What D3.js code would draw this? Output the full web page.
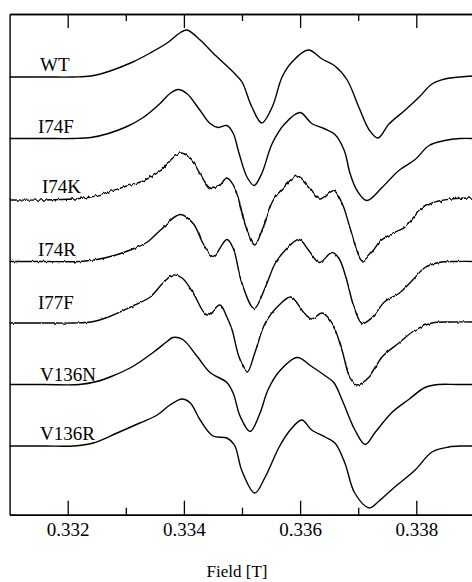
<!DOCTYPE html>
<html>
<head>
<meta charset="utf-8">
<script src="https://cdn.jsdelivr.net/npm/d3@7/dist/d3.min.js"></script>
<style>
  html, body { margin: 0; padding: 0; background: #fff; }
  svg { display: block; }
  text { font-family: "Liberation Serif", "Times New Roman", serif; fill: #000; }
</style>
</head>
<body>
<svg id="chart" width="472" height="582"></svg>
<script>
// EPR first-derivative spectra, magnetic field in tesla, amplitude in arbitrary units
const traceNames = ["WT", "I74F", "I74K", "I74R", "I77F", "V136N", "V136R"];
// baseline of each spectrum in the stacked display (a.u.)
const traceOffsets = [369, 307.5, 246, 184.5, 123, 61.5, 0];
const majorTicks = [0.332, 0.334, 0.336, 0.338];
const minorTicks = [0.333, 0.335, 0.337];
const fieldDomain = [0.331, 0.339];
const axisTitle = "Field [T]";

// [field (T), signal (a.u.)]
const specWT = [
  [0.33100, 0], [0.33160, 0], [0.33210, 0], [0.33240, 1], [0.33273, 6], [0.33312, 15],
  [0.33342, 24], [0.33371, 34], [0.33393, 44], [0.33405, 47], [0.33428, 37], [0.33450, 24],
  [0.33474, 11], [0.33488, 3], [0.33500, -5], [0.33517, -30], [0.33534, -46], [0.33552, -30],
  [0.33569, 0], [0.33586, 15], [0.33614, 27], [0.33638, 18], [0.33660, 11], [0.33681, -3],
  [0.33701, -30], [0.33719, -53], [0.33734, -61], [0.33753, -47], [0.33781, -33], [0.33805, -20],
  [0.33827, -7], [0.33849, -2], [0.33875, 0], [0.33900, 1]
];
const specI74F = [
  [0.33100, 0], [0.33160, 0], [0.33210, 0], [0.33240, 1], [0.33270, 5], [0.33302, 12],
  [0.33330, 21], [0.33359, 35], [0.33376, 45], [0.33390, 49], [0.33405, 45], [0.33428, 28],
  [0.33445, 15], [0.33459, 11], [0.33474, 13], [0.33485, 5], [0.33495, -15], [0.33509, -39],
  [0.33521, -47], [0.33534, -35], [0.33552, -5], [0.33574, 15], [0.33600, 26], [0.33620, 15],
  [0.33641, 10], [0.33660, 4], [0.33676, -12], [0.33686, -35], [0.33698, -52], [0.33715, -62],
  [0.33741, -49], [0.33770, -32], [0.33798, -21], [0.33822, -7], [0.33849, -2], [0.33875, 0],
  [0.33900, 0]
];
const specI74K = [
  [0.33100, 0], [0.33160, 0], [0.33210, 1], [0.33240, 3], [0.33270, 8], [0.33302, 14],
  [0.33330, 19], [0.33359, 29], [0.33381, 42], [0.33393, 47], [0.33411, 42], [0.33428, 26],
  [0.33445, 12], [0.33459, 13], [0.33474, 22], [0.33485, 15], [0.33493, 3], [0.33502, -18],
  [0.33514, -38], [0.33522, -45], [0.33536, -28], [0.33553, -1], [0.33571, 12], [0.33595, 24],
  [0.33617, 12], [0.33634, 1], [0.33657, 10], [0.33672, -3], [0.33686, -28], [0.33698, -51],
  [0.33707, -61], [0.33725, -51], [0.33738, -41], [0.33760, -33], [0.33781, -27], [0.33805, -11],
  [0.33827, -3], [0.33860, 1], [0.33900, 2]
];
const specI74R = [
  [0.33100, 0], [0.33160, 0], [0.33220, 0], [0.33250, 2], [0.33280, 6], [0.33310, 12],
  [0.33336, 19], [0.33359, 31], [0.33393, 47], [0.33416, 38], [0.33433, 18], [0.33450, 5],
  [0.33474, 22], [0.33485, 13], [0.33500, -22], [0.33521, -47], [0.33540, -26], [0.33557, -2],
  [0.33574, 11], [0.33598, 22], [0.33615, 11], [0.33633, -1], [0.33655, 9], [0.33667, 3],
  [0.33679, -16], [0.33693, -46], [0.33707, -62], [0.33724, -56], [0.33746, -40], [0.33770, -32],
  [0.33793, -19], [0.33815, -6], [0.33839, -1], [0.33870, 0], [0.33900, 0]
];
const specI77F = [
  [0.33100, 0], [0.33160, 0], [0.33210, 0], [0.33240, 1], [0.33270, 6], [0.33312, 17],
  [0.33342, 26], [0.33364, 40], [0.33381, 48], [0.33397, 45], [0.33416, 30], [0.33440, 8],
  [0.33462, 18], [0.33474, 6], [0.33483, -7], [0.33495, -34], [0.33509, -49], [0.33522, -30],
  [0.33540, 0], [0.33564, 18], [0.33584, 26], [0.33607, 10], [0.33620, 4], [0.33638, 10],
  [0.33655, 0], [0.33672, -27], [0.33686, -55], [0.33698, -62], [0.33719, -54], [0.33741, -34],
  [0.33770, -20], [0.33798, -7], [0.33827, 0], [0.33860, 1], [0.33900, 1]
];
const specV136N = [
  [0.33100, 0], [0.33160, 0], [0.33220, 0], [0.33250, 3], [0.33275, 8], [0.33312, 18],
  [0.33347, 32], [0.33371, 43], [0.33381, 47], [0.33398, 45], [0.33423, 28], [0.33445, 12],
  [0.33474, 2], [0.33485, -9], [0.33497, -32], [0.33514, -47], [0.33530, -30], [0.33545, -5],
  [0.33564, 13], [0.33595, 27], [0.33620, 18], [0.33645, 8], [0.33658, 2], [0.33672, -15],
  [0.33694, -45], [0.33712, -60], [0.33729, -48], [0.33758, -28], [0.33787, -15], [0.33815, -3],
  [0.33839, 0], [0.33870, 0], [0.33900, 0]
];
const specV136R = [
  [0.33100, 0], [0.33160, 0], [0.33210, 0], [0.33244, 3], [0.33285, 13], [0.33324, 23],
  [0.33354, 31], [0.33376, 41], [0.33397, 47], [0.33411, 43], [0.33428, 26], [0.33450, 10],
  [0.33474, 8], [0.33487, 1], [0.33500, -25], [0.33522, -47], [0.33540, -31], [0.33564, -1],
  [0.33583, 16], [0.33603, 26], [0.33620, 16], [0.33643, 9], [0.33660, 3], [0.33677, -17],
  [0.33694, -47], [0.33719, -62], [0.33736, -55], [0.33763, -41], [0.33798, -24], [0.33827, -6],
  [0.33856, -1], [0.33880, 0], [0.33900, 0]
];
const spectra = [specWT, specI74F, specI74K, specI74R, specI77F, specV136N, specV136R];

// ---- layout ----
const plot = { left: 9.6, right: 474.4, top: 14, bottom: 514.7 };
const jitter = [1.6, 1.0, 5.0, 3.0, 3.0, 1.0, 1.0];   // recorder noise amplitude per trace (px)
const labelDx = [40, 38, 42, 38, 38, 40, 40];
const labelLift = [6, 6, 7, 6, 14, 4, 6];

const svg = d3.select("#chart");

const x = d3.scaleLinear().domain(fieldDomain).range([plot.left, plot.right]);
const y = d3.scaleLinear().domain([-68.7, 432]).range([plot.bottom, plot.top]);

// vertical-only noise: horizontal channel pinned to neutral grey
const defs = svg.append("defs");
jitter.forEach((s, i) => {
  const f = defs.append("filter").attr("id", "jitter" + i)
    .attr("filterUnits", "userSpaceOnUse")
    .attr("x", 0).attr("y", 0).attr("width", 480).attr("height", 582);
  f.append("feTurbulence").attr("type", "fractalNoise")
    .attr("baseFrequency", "0.35 0.05").attr("numOctaves", 2).attr("seed", 5 + i)
    .attr("result", "n");
  f.append("feColorMatrix").attr("in", "n").attr("type", "matrix")
    .attr("values", "0 0 0 0 0.5  0 1 0 0 0  0 0 1 0 0  0 0 0 0 1")
    .attr("result", "m");
  f.append("feDisplacementMap").attr("in", "SourceGraphic").attr("in2", "m")
    .attr("scale", s).attr("xChannelSelector", "R").attr("yChannelSelector", "G");
});

// frame / axes
const axisStyle = g => {
  g.selectAll("path.domain").attr("stroke", "#000").attr("stroke-width", 1.4);
  g.selectAll(".tick line").attr("stroke", "#000").attr("stroke-width", 1.3);
};

svg.append("g").attr("transform", `translate(0,${plot.bottom})`)
  .call(d3.axisBottom(x).tickValues(majorTicks).tickSize(-14).tickSizeOuter(0)
    .tickFormat(d3.format(".3f")).tickPadding(8))
  .call(axisStyle)
  .call(g => g.selectAll(".tick text").attr("font-size", 19).attr("fill", "#000"));

svg.append("g").attr("transform", `translate(0,${plot.bottom})`)
  .call(d3.axisBottom(x).tickValues(minorTicks).tickSize(-7).tickSizeOuter(0).tickFormat(""))
  .call(axisStyle);

svg.append("g").attr("transform", `translate(0,${plot.top})`)
  .call(d3.axisTop(x).tickValues(majorTicks).tickSize(-14).tickSizeOuter(0).tickFormat(""))
  .call(axisStyle);

svg.append("g").attr("transform", `translate(0,${plot.top})`)
  .call(d3.axisTop(x).tickValues(minorTicks).tickSize(-7).tickSizeOuter(0).tickFormat(""))
  .call(axisStyle);

svg.append("g").attr("transform", `translate(${plot.left},0)`)
  .call(d3.axisLeft(y).tickValues([]).tickSizeOuter(0))
  .call(axisStyle);

// spectra, stacked by offset
spectra.forEach((spec, i) => {
  const off = traceOffsets[i];
  const gen = d3.line()
    .x(d => x(d[0]))
    .y(d => y(off + d[1]))
    .curve(d3.curveCatmullRom.alpha(0.5));
  svg.append("path")
    .datum(spec)
    .attr("d", gen)
    .attr("fill", "none")
    .attr("stroke", "#000")
    .attr("stroke-width", 1.4)
    .attr("stroke-linejoin", "round")
    .attr("filter", `url(#jitter${i})`);

  svg.append("text")
    .attr("x", labelDx[i])
    .attr("y", y(off) - labelLift[i])
    .attr("font-size", 19)
    .text(traceNames[i]);
});

svg.append("text")
  .attr("x", 237).attr("y", 577)
  .attr("text-anchor", "middle")
  .attr("font-size", 17)
  .text(axisTitle);
</script>
</body>
</html>
